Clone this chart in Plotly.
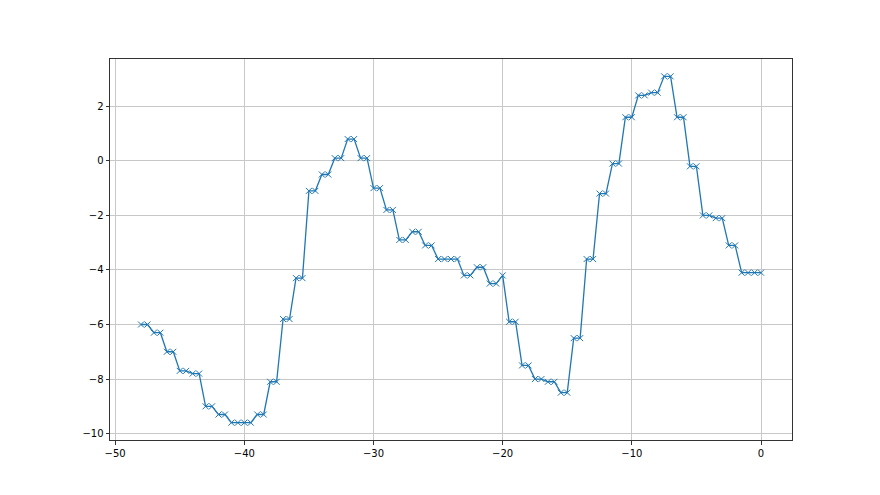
import plotly.graph_objects as go

# x positions (time offsets) and values
x_first = [-48.0 + 0.5 * i for i in range(56)]          # -48 .. -20.5
x_mid = [-20.0]
x_last = [-19.5 + 0.5 * i for i in range(40)]           # -19.5 .. 0
x_vals = x_first + x_mid + x_last

levels_first = [-6.0, -6.3, -7.0, -7.7, -7.8, -9.0, -9.3, -9.6, -9.6, -9.3,
                -8.1, -5.8, -4.3, -1.1, -0.5, 0.1, 0.8, 0.1, -1.0, -1.8,
                -2.9, -2.6, -3.1, -3.6, -3.6, -4.2, -3.9, -4.5]
level_mid = [-4.2]
levels_last = [-5.9, -7.5, -8.0, -8.1, -8.5, -6.5, -3.6, -1.2, -0.1, 1.6,
               2.4, 2.5, 3.1, 1.6, -0.2, -2.0, -2.1, -3.1, -4.1, -4.1]

y_vals = []
for v in levels_first:
    y_vals += [v, v]
y_vals += level_mid
for v in levels_last:
    y_vals += [v, v]

x_ticks = [-50, -40, -30, -20, -10, 0]
y_ticks = [-10, -8, -6, -4, -2, 0, 2]

color = "#1f77b4"

fig = go.Figure()
fig.add_trace(go.Scatter(
    x=x_vals, y=y_vals, mode="lines+markers",
    line=dict(color=color, width=1.3),
    marker=dict(symbol="x-thin", size=6, color=color,
                line=dict(width=1, color=color)),
    showlegend=False, hoverinfo="skip",
))

axis_common = dict(
    showgrid=True, gridcolor="#c8c8c8", gridwidth=1,
    zeroline=False, showline=True, linecolor="#333333", linewidth=1,
    mirror=True, ticks="outside", ticklen=3.5, tickwidth=1,
    tickcolor="#333333", tickfont=dict(family="DejaVu Sans", size=10, color="black"),
)

fig.update_layout(
    width=880, height=495,
    margin=dict(l=110, r=88, t=59, b=55),
    paper_bgcolor="white", plot_bgcolor="white",
    font=dict(family="DejaVu Sans", size=10, color="black"),
    xaxis=dict(range=[-50.4, 2.4], tickvals=x_ticks, **axis_common),
    yaxis=dict(range=[-10.235, 3.735], tickvals=y_ticks, **axis_common),
)

fig.write_html("out.html", config={"displayModeBar": False},
               post_script="document.body.style.margin='0';")
